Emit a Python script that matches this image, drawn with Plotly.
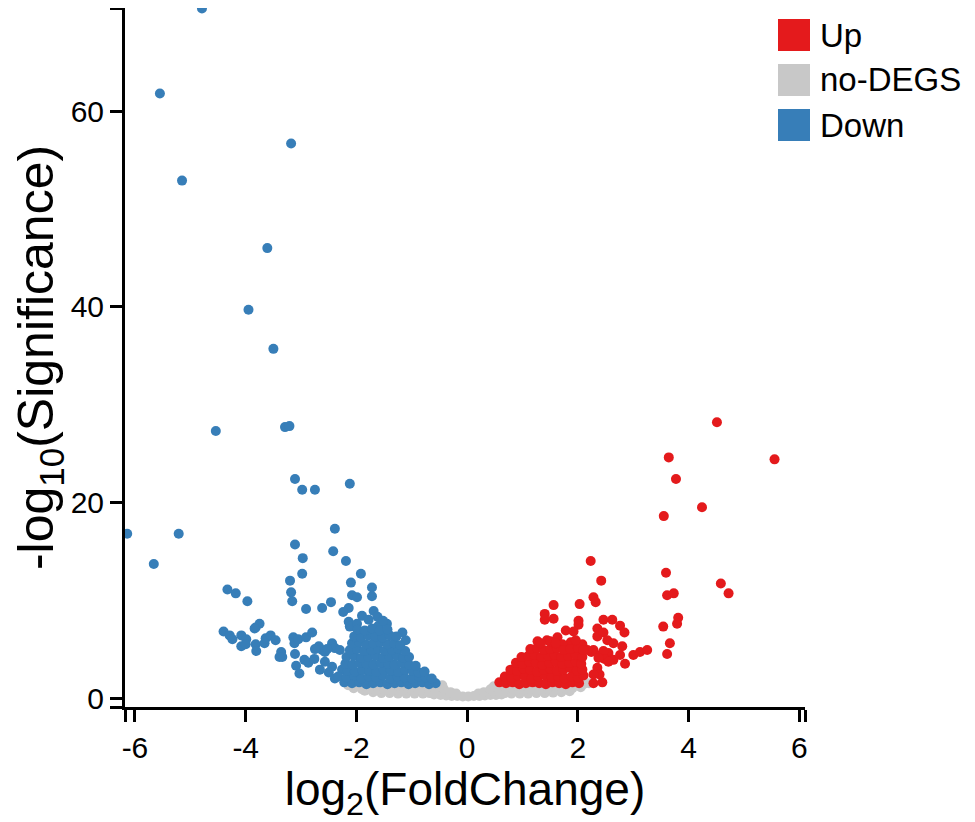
import plotly.graph_objects as go

# volcano plot : log2 fold change vs -log10 significance
# points (x, y)

down_pts = [
    (-4.79, 70.5), (-5.55, 61.8), (-3.18, 56.7), (-5.15, 52.9), (-3.61, 46.0), (-3.95, 39.7), (-3.50, 35.7),
    (-4.54, 27.3), (-3.29, 27.7), (-3.21, 27.8), (-3.11, 22.4), (-2.98, 21.3), (-2.75, 21.3), (-2.12, 21.9),
    (-2.39, 17.3), (-6.14, 16.8), (-5.21, 16.8), (-3.11, 15.7), (-2.42, 15.0), (-2.97, 14.3), (-2.19, 14.0),
    (-5.66, 13.7), (-2.98, 12.7), (-1.92, 12.7), (-3.20, 12.0), (-2.10, 11.8), (-1.72, 11.3), (-4.33, 11.1),
    (-4.18, 10.7), (-3.18, 10.8), (-2.08, 10.5), (-1.99, 10.3), (-1.72, 10.4), (-3.97, 9.9), (-3.16, 9.9),
    (-2.46, 9.8), (-2.91, 9.1), (-2.62, 9.2), (-2.14, 9.2), (-1.69, 8.9), (-2.24, 8.8), (-1.90, 8.4),
    (-4.40, 6.8), (-4.29, 6.4), (-4.24, 6.0), (-4.08, 6.4), (-3.99, 6.0), (-4.08, 5.3), (-4.00, 5.5),
    (-3.82, 7.2), (-3.75, 7.6), (-3.84, 7.1), (-3.82, 5.5), (-3.81, 4.8), (-3.66, 5.6), (-3.64, 6.1),
    (-3.55, 6.4), (-3.46, 5.9), (-3.36, 4.7), (-3.34, 4.2), (-3.39, 4.2), (-3.14, 6.2), (-3.12, 5.6),
    (-3.05, 6.0), (-2.91, 6.2), (-2.80, 6.7), (-3.11, 4.5), (-3.09, 3.3), (-3.03, 2.5), (-2.94, 3.9),
    (-2.87, 3.6), (-2.76, 4.0), (-2.66, 2.9), (-2.62, 4.9), (-2.68, 5.3), (-2.57, 4.7), (-2.44, 5.6),
    (-2.39, 5.1), (-2.30, 4.9), (-2.57, 3.7), (-2.44, 3.2), (-2.50, 2.6), (-2.39, 2.0), (-2.26, 2.9),
    (-2.75, 5.0), (-2.53, 5.0),
    (-2.14, 7.8), (-2.12, 7.3), (-1.99, 7.6), (-1.60, 7.4), (-1.45, 7.6), (-1.17, 6.7), (-1.11, 5.9),
    (-1.78, 8.0), (-1.62, 8.3), (-1.52, 7.9),
    # dense part
    (-2.22, 1.6), (-2.08, 1.5), (-1.95, 1.6), (-1.82, 1.4), (-1.70, 1.5), (-1.57, 1.6), (-1.44, 1.4),
    (-1.31, 1.5), (-1.19, 1.6), (-1.06, 1.4), (-0.94, 1.5), (-0.81, 1.6), (-0.69, 1.4), (-0.57, 1.5),
    (-2.33, 2.2), (-2.18, 2.1), (-2.04, 2.3), (-1.91, 2.0), (-1.78, 2.2), (-1.65, 2.1), (-1.52, 2.3),
    (-1.39, 2.0), (-1.26, 2.2), (-1.13, 2.1), (-1.00, 2.0), (-0.87, 2.2), (-0.75, 2.1), (-0.64, 2.0),
    (-2.16, 2.8), (-2.03, 2.7), (-1.90, 2.9), (-1.77, 2.8), (-1.64, 2.7), (-1.51, 2.9), (-1.38, 2.8),
    (-1.25, 2.7), (-1.12, 2.9), (-0.99, 2.8), (-0.88, 2.6), (-0.77, 2.7),
    (-2.20, 3.5), (-2.07, 3.4), (-1.94, 3.6), (-1.82, 3.5), (-1.69, 3.4), (-1.56, 3.6), (-1.43, 3.5),
    (-1.31, 3.4), (-1.18, 3.6), (-1.05, 3.4), (-0.93, 3.3),
    (-2.18, 4.2), (-2.04, 4.3), (-1.91, 4.1), (-1.78, 4.2), (-1.65, 4.3), (-1.52, 4.1), (-1.40, 4.2),
    (-1.27, 4.3), (-1.15, 4.1), (-1.05, 4.2),
    (-2.12, 4.9), (-1.99, 5.0), (-1.86, 4.8), (-1.73, 4.9), (-1.61, 5.0), (-1.49, 4.8), (-1.36, 4.9),
    (-1.24, 5.0), (-1.12, 4.8),
    (-2.08, 5.6), (-1.95, 5.7), (-1.83, 5.5), (-1.70, 5.6), (-1.57, 5.7), (-1.44, 5.5), (-1.32, 5.6), (-1.21, 5.4),
    (-2.04, 6.3), (-1.92, 6.2), (-1.79, 6.4), (-1.66, 6.3), (-1.53, 6.2), (-1.40, 6.4), (-1.28, 6.3),
    (-1.98, 7.0), (-1.85, 6.9), (-1.72, 7.1), (-1.58, 6.9), (-1.44, 7.0),
]

up_pts = [
    (4.51, 28.2), (3.64, 24.6), (5.55, 24.4), (3.77, 22.4), (4.24, 19.5), (3.55, 18.6), (2.23, 14.0),
    (3.59, 12.8), (2.42, 12.0), (4.58, 11.7), (4.72, 10.7), (3.61, 10.5), (3.73, 10.7), (2.28, 10.3),
    (2.32, 9.8), (1.56, 9.5), (2.03, 9.6), (1.40, 8.6), (1.40, 8.0), (1.56, 8.1), (2.01, 7.9), (2.01, 7.5),
    (2.46, 8.0), (2.62, 8.0), (3.81, 8.2), (3.79, 7.6), (3.54, 7.3), (3.66, 5.6), (3.61, 4.5),
    (2.35, 7.1), (2.35, 6.3), (2.46, 6.7), (2.76, 7.4), (2.84, 6.7), (1.78, 6.9), (1.92, 6.8), (1.63, 6.2),
    (1.27, 5.8), (1.44, 5.9), (2.08, 5.5), (1.87, 5.7), (1.72, 5.5), (2.53, 5.9), (2.64, 5.6), (2.80, 5.3),
    (2.28, 4.9), (2.41, 4.4), (2.55, 4.6), (2.46, 4.8), (2.24, 4.7), (2.48, 4.0), (2.64, 3.9), (2.76, 4.4),
    (2.85, 3.5), (3.00, 4.4), (3.12, 4.7), (3.25, 4.9), (2.37, 4.1), (2.55, 3.7), (2.35, 3.1), (2.39, 2.4),
    (2.28, 2.4), (2.28, 1.5), (2.44, 1.6), (2.17, 4.9),
    # dense part
    (0.58, 1.6), (0.70, 1.5), (0.82, 1.6), (0.94, 1.4), (1.06, 1.5), (1.18, 1.6), (1.30, 1.5), (1.42, 1.4),
    (1.54, 1.6), (1.66, 1.5), (1.78, 1.4), (1.90, 1.6), (2.02, 1.5),
    (0.68, 2.2), (0.80, 2.1), (0.92, 2.3), (1.04, 2.2), (1.16, 2.0), (1.28, 2.2), (1.40, 2.3), (1.52, 2.1),
    (1.64, 2.2), (1.76, 2.0), (1.88, 2.2), (2.00, 2.1), (2.10, 2.3),
    (0.78, 2.9), (0.90, 2.8), (1.02, 3.0), (1.14, 2.9), (1.26, 2.7), (1.38, 2.9), (1.50, 3.0), (1.62, 2.8),
    (1.74, 2.9), (1.86, 3.1), (1.98, 2.8), (2.08, 2.9),
    (0.88, 3.6), (1.00, 3.5), (1.12, 3.7), (1.24, 3.6), (1.36, 3.4), (1.48, 3.6), (1.60, 3.7), (1.72, 3.5),
    (1.84, 3.6), (1.96, 3.7), (2.06, 3.5),
    (0.98, 4.2), (1.10, 4.3), (1.22, 4.4), (1.34, 4.2), (1.46, 4.3), (1.58, 4.4), (1.70, 4.2), (1.82, 4.3),
    (1.96, 4.4), (2.08, 4.2),
    (1.14, 5.0), (1.26, 5.1), (1.38, 4.9), (1.50, 5.0), (1.62, 5.1), (1.74, 4.9), (1.86, 5.0), (2.00, 5.1),
    (2.10, 4.9),
    (1.32, 5.6), (1.50, 5.8), (1.60, 5.6), (1.96, 5.9),
]

nodeg_pts = [
    (-0.60, 0.35), (-0.48, 0.3), (-0.38, 0.25), (-0.28, 0.2), (-0.18, 0.2), (-0.08, 0.15), (0.02, 0.15),
    (0.12, 0.2), (0.22, 0.2), (0.32, 0.25), (0.42, 0.3), (0.52, 0.3), (0.62, 0.35),
    (-1.85, 0.75), (-1.70, 0.6), (-1.55, 0.5), (-1.40, 0.5), (-1.25, 0.45), (-1.10, 0.45), (-0.95, 0.45),
    (-0.80, 0.45), (-0.68, 0.5), (-0.30, 0.6), (-0.20, 0.45), (0.20, 0.45), (0.30, 0.6), (0.45, 0.7),
    (0.68, 0.5), (0.80, 0.45), (0.95, 0.45), (1.10, 0.45), (1.25, 0.5), (1.40, 0.5), (1.55, 0.55),
    (1.70, 0.6), (1.85, 0.7),
    (-2.05, 1.0), (-1.90, 0.9), (-1.75, 0.9), (-1.60, 0.9), (-1.45, 0.85), (-1.30, 0.9), (-1.15, 0.8),
    (-1.00, 0.85), (-0.85, 0.8), (-0.70, 0.9), (-0.55, 0.8), (-0.42, 0.9), (0.42, 0.9), (0.55, 0.85),
    (0.70, 0.9), (0.85, 0.8), (1.00, 0.85), (1.15, 0.9), (1.30, 0.85), (1.45, 0.9), (1.60, 0.9),
    (1.75, 1.0), (1.90, 1.0), (2.05, 1.1),
    (-2.15, 1.3), (-2.00, 1.3), (-1.85, 1.25), (-1.70, 1.3), (-1.55, 1.2), (-1.40, 1.25), (-1.25, 1.2),
    (-1.10, 1.2), (-0.95, 1.2), (-0.80, 1.2), (-0.65, 1.2), (-0.52, 1.2), (-0.45, 1.3), (0.48, 1.2),
    (0.60, 1.3), (0.75, 1.2), (0.90, 1.25), (1.05, 1.2), (1.20, 1.3), (1.35, 1.2), (1.50, 1.25),
    (1.65, 1.3), (1.80, 1.3), (1.95, 1.4), (2.10, 1.4), (2.20, 1.5),
]

x_ticks = [-6, -4, -2, 0, 2, 4, 6]
y_ticks = [0, 20, 40, 60]
groups = ["Up", "no-DEGS", "Down"]
colors = {"Up": "#E41A1C", "no-DEGS": "#C8C8C8", "Down": "#377EB8"}

X_RANGE = [-6.18, 6.1]
Y_RANGE = [-0.92, 70.55]

fig = go.Figure()
for name, pts in [("no-DEGS", nodeg_pts), ("Down", down_pts), ("Up", up_pts)]:
    fig.add_trace(go.Scatter(
        x=[p[0] for p in pts], y=[p[1] for p in pts], mode="markers", name=name,
        marker=dict(size=10, color=colors[name], line=dict(width=0)),
        cliponaxis=False, showlegend=False))

# ticks at the axis ends (blank labels) to get the little caps
xt = [X_RANGE[0]] + x_ticks + [X_RANGE[1]]
yt = [Y_RANGE[0]] + y_ticks + [Y_RANGE[1]]

# the page puts the figure 8 px in from the corner
OFF = 8
W, H = 975 - OFF, 822 - OFF
L, T = 125 - OFF, 0
PW, PH = 680, 699
R, B = W - L - PW, H - T - PH

fig.update_layout(
    width=W, height=H,
    margin=dict(l=L, r=R, t=T, b=B, pad=0),
    plot_bgcolor="white", paper_bgcolor="white",
    font=dict(family="Liberation Sans, Arial, sans-serif", color="black"),
    xaxis=dict(range=X_RANGE, tickvals=xt, ticktext=[""] + [str(v) for v in x_ticks] + [""],
               showgrid=False, zeroline=False, showline=True, linecolor="black", linewidth=3,
               ticks="outside", ticklen=12, tickwidth=3, tickcolor="black",
               tickfont=dict(size=30),
               title=dict(text="log<sub>2</sub>(FoldChange)", font=dict(size=46), standoff=2)),
    yaxis=dict(range=Y_RANGE, tickvals=yt, ticktext=[""] + [str(v) for v in y_ticks] + [""],
               showgrid=False, zeroline=False, showline=True, linecolor="black", linewidth=3,
               ticks="outside", ticklen=12, tickwidth=3, tickcolor="black",
               tickfont=dict(size=30),
               title=dict(text="-log<sub>10</sub>(Significance)", font=dict(size=50), standoff=4)),
)

# legend drawn by hand (plotly caps legend symbol size)
def px2paper(px, py):
    # page pixels -> paper fraction
    return (px - OFF - L) / PW, (OFF + T + PH - py) / PH

for i, g in enumerate(groups):
    top = 19 + 45 * i
    x0, y0 = px2paper(778, top)
    x1, y1 = px2paper(810, top + 32)
    fig.add_shape(type="rect", xref="paper", yref="paper", x0=x0, x1=x1, y0=y1, y1=y0,
                  fillcolor=colors[g], line=dict(width=0))
    tx, ty = px2paper(818, top + 16)
    fig.add_annotation(xref="paper", yref="paper", x=tx, y=ty, text=g, showarrow=False,
                       xanchor="left", yanchor="middle", font=dict(size=33, color="black"))

fig.write_html("out.html")
